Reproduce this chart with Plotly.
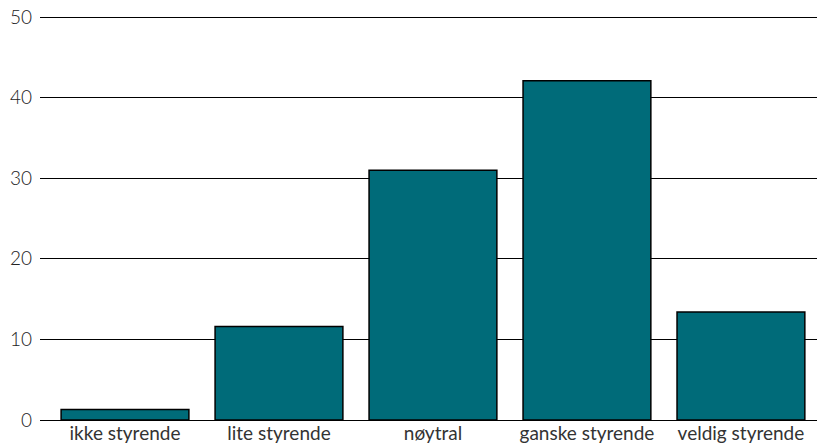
import plotly.graph_objects as go

categories = ["ikke styrende", "lite styrende", "nøytral", "ganske styrende", "veldig styrende"]
values = [1.3, 11.6, 31.0, 42.1, 13.4]
y_ticks = [0, 10, 20, 30, 40, 50]

fig = go.Figure(go.Bar(
    x=categories, y=values,
    marker=dict(color="#006b79", line=dict(color="#000000", width=1.5)),
    width=0.83,
))

fig.update_layout(
    width=817, height=447,
    margin=dict(l=40, r=0, t=15, b=27, autoexpand=False),
    paper_bgcolor="white", plot_bgcolor="white",
    font=dict(family="Lato", size=19, color="#333333"),
    showlegend=False,
)
fig.update_xaxes(
    range=[-0.552, 4.494], showgrid=False, showline=False, ticks="",
    tickfont=dict(size=19, color="#333333"), automargin=False,
)
fig.update_yaxes(
    range=[0, 50.25], tickvals=y_ticks, showgrid=True, gridcolor="#000000", gridwidth=1,
    zeroline=True, zerolinecolor="#000000", zerolinewidth=1,
    showline=False, ticks="", tickfont=dict(size=19, color="#222222", weight=300),
    automargin=False, ticklabelstandoff=7,
)
fig.write_html(
    "out.html",
    config={"displayModeBar": False},
    post_script="document.body.style.margin='0';document.body.style.overflow='hidden';",
)
